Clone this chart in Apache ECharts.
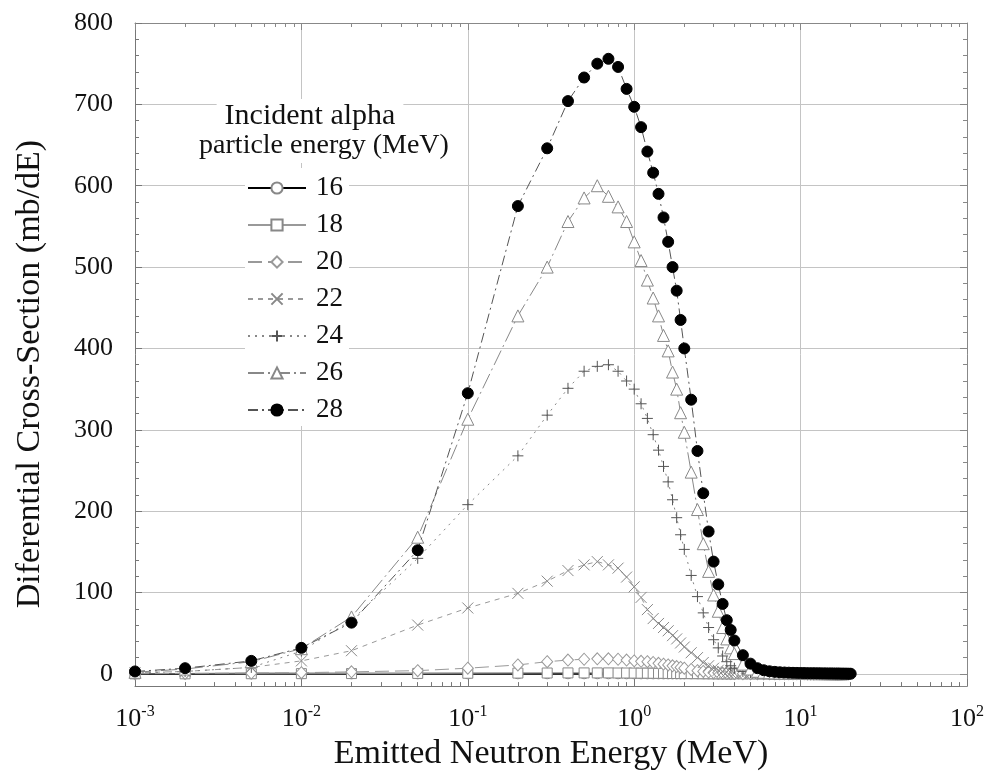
<!DOCTYPE html>
<html>
<head>
<meta charset="utf-8">
<script src="https://cdn.jsdelivr.net/npm/echarts@6/dist/echarts.min.js"></script>
<style>
html,body{margin:0;padding:0;background:#fff;}
#chart{width:990px;height:776px;}
</style>
</head>
<body>
<div id="chart"></div>
<script>
// Emitted neutron energy grid (MeV)
const energy = [0.001,0.002,0.005,0.01,0.02,0.05,0.1,0.2,0.3,0.4,0.5,0.6,0.7,0.8,0.9,1.0,1.1,1.2,1.3,1.4,1.5,1.6,1.7,1.8,1.9,2.0,2.2,2.4,2.6,2.8,3.0,3.2,3.4,3.6,3.8,4.0,4.5,5.0,
  5.5,6,6.5,7,7.5,8,8.5,9,9.5,10,10.5,11,11.5,12,12.5,13,13.5,14,14.5,15,15.5,16,16.5,17,17.5,18,18.5,19,19.5,20];

// Incident alpha energies (legend labels)
const alphaEnergies = ['16','18','20','22','24','26','28'];

// Differential cross-sections (mb/dE)
const sigma16 = [0.01,0.02,0.03,0.05,0.07,0.1,0.12,0.15,0.16,0.16,0.16,0.15,0.15,0.14,0.13,0.12,0.11,0.1,0.09,0.08,0.07,0.06,0.06,0.05,0.05,0.04,0.03,0.03,0.02,0.02,0.02,0.01,0.01,0.01,0.01,0.01,0,0,
  0,0,0,0,0,0];
const sigma18 = [0.05,0.1,0.2,0.3,0.4,0.6,0.8,1,1.1,1.2,1.2,1.2,1.2,1.1,1.1,1,0.9,0.9,0.8,0.7,0.7,0.6,0.5,0.5,0.4,0.4,0.3,0.3,0.2,0.2,0.15,0.12,0.1,0.08,0.06,0.05,0.03,0.02,
  0.02,0.01,0.01,0.01,0.01,0.01,0.01,0,0,0];
const sigma20 = [0.3,0.6,1,1.5,2.5,4,7,11,15,17,18,18.5,18.5,18,17,16,15.5,15,14,13,12,11,10,9,8,7,5.5,4,3,2.2,1.7,1.3,1,0.8,0.6,0.5,0.3,0.2,
  0.15,0.1,0.08,0.06,0.05,0.04,0.03,0.03,0.02,0.02,0.02,0.01,0.01,0.01];
const sigma22 = [1.5,3,8,16,28.5,60,81,99,114,127,134,138,134,130,119,107,94,79,68,62,57,53,47,43,38,33,26,20,14,10,7,4.5,3,2,1.4,1,0.5,0.3,
  0.2,0.15,0.1,0.1,0.1,0.08,0.07,0.06,0.05,0.05,0.04,0.04,0.03,0.03,0.03,0.02,0.02,0.02];
const sigma24 = [1,3,8,28,66,142,208,268,318,351,372,378,380,372,360,350,332,314,294,275,255,236,214,192,171,153,121,95,75,57,42,32,22,15,10,7,3,1.5,
  0.8,0.5,0.4,0.3,0.3,0.2,0.2,0.2,0.2,0.1,0.1,0.1,0.1,0.1,0.1,0.1,0.1,0.05,0.05,0.05,0.05,0.05];
const sigma26 = [2,6,15,31,70,168,313,440,500,556,585,600,587,574,556,531,508,484,462,440,416,397,371,350,321,297,248,202,160,126,97,77,57,43,32,25,12,6,
  3.2,2,1.5,1.2,1,0.9,0.8,0.7,0.6,0.6,0.5,0.5,0.4,0.4,0.4,0.3,0.3,0.3,0.3,0.2,0.2,0.2,0.2,0.2,0.1,0.1];
const sigma28 = [3,7,16,32,63,152,345,575,646,704,733,750,756,746,719,697,672,642,616,590,561,531,500,471,435,400,337,274,222,175,138,110,86,66,54,41,23,12.6,
  7,4.5,3.2,2.5,2,1.7,1.5,1.3,1.2,1.1,1,0.9,0.8,0.8,0.7,0.7,0.6,0.6,0.5,0.5,0.5,0.4,0.4,0.4,0.3,0.3,0.3,0.3,0.2,0.2];

const allSigma = [sigma16, sigma18, sigma20, sigma22, sigma24, sigma26, sigma28];

function pairs(vals){ return vals.map((v,i)=>[energy[i], v]); }

const FONT = 'Liberation Serif';
const crossPath = 'path://M0,0L10,10M10,0L0,10';
const plusPath = 'path://M5,0L5,10M0,5L10,5';

const styles = [
  {symbol:'circle', size:10, fill:'#fff', border:'#888', line:{color:'#000', width:2, type:'solid'}},
  {symbol:'rect', size:10, fill:'#fff', border:'#888', line:{color:'#999', width:1, type:'solid'}},
  {symbol:'diamond', size:[11,12], fill:'#fff', border:'#999', line:{color:'#999', width:1, type:[14,6]}},
  {symbol:crossPath, size:11, fill:'none', border:'#888', line:{color:'#999', width:1, type:[5,5]}},
  {symbol:plusPath, size:11, fill:'none', border:'#555', line:{color:'#888', width:1, type:[2,5]}},
  {symbol:'triangle', size:12, fill:'#fff', border:'#888', line:{color:'#888', width:1, type:[16,4,2,4]}},
  {symbol:'circle', size:11, fill:'#000', border:'#000', line:{color:'#555', width:1, type:[10,4,2,4]}}
];

const series = allSigma.map((vals, k) => {
  const st = styles[k];
  return {
    name: alphaEnergies[k],
    type: 'line',
    data: pairs(vals),
    symbol: st.symbol,
    symbolSize: st.size,
    showSymbol: true,
    showAllSymbol: true,
    lineStyle: st.line,
    itemStyle: {color: st.fill, borderColor: st.border, borderWidth: 1},
    z: 2 + k,
    animation: false,
    silent: true
  };
});

const chart = echarts.init(document.getElementById('chart'), null, {renderer:'canvas'});
chart.setOption({
  backgroundColor: '#fff',
  animation: false,
  title: [
    {
      text: 'Incident alpha',
      left: 302, top: 99, textAlign: 'center',
      backgroundColor: '#fff', padding: [2, 8, 0, 8],
      textStyle: {fontFamily: FONT, fontSize: 30, fontWeight: 'normal', color: '#111', lineHeight: 31}
    },
    {
      text: 'particle energy (MeV)',
      left: 318, top: 131, textAlign: 'center',
      backgroundColor: '#fff', padding: [0, 6, 2, 6],
      textStyle: {fontFamily: FONT, fontSize: 28, fontWeight: 'normal', color: '#111', lineHeight: 30}
    }
  ],
  legend: {
    orient: 'vertical',
    left: 245,
    top: 168,
    z: 8,
    padding: [6, 6, 2, 2],
    backgroundColor: '#fff',
    itemWidth: 58,
    itemHeight: 14,
    itemGap: 9,
    data: alphaEnergies,
    textStyle: {fontFamily: FONT, fontSize: 27, color: '#111', lineHeight: 28, padding: [0,0,0,5]}
  },
  grid: {left: 135, right: 23, top: 23, bottom: 89, containLabel: false},
  xAxis: [
    {
      type: 'log', logBase: 10, min: 0.001, max: 100, position: 'bottom',
      name: 'Emitted Neutron Energy (MeV)', nameLocation: 'middle', nameGap: 46,
      nameTextStyle: {fontFamily: FONT, fontSize: 34, color: '#111'},
      axisLine: {show: true, onZero: false, lineStyle: {color: '#777', width: 1}},
      axisTick: {show: true, inside: true, length: 7, lineStyle: {color: '#777'}},
      minorTick: {show: true, splitNumber: 9, length: 4, lineStyle: {color: '#777'}},
      splitLine: {show: true, lineStyle: {color: '#c4c4c4', width: 1}},
      axisLabel: {
        margin: 18,
        formatter: function(v){ const e = Math.round(Math.log10(v)); return '{b|10}{s|' + e + '}'; },
        rich: {
          b: {fontFamily: FONT, fontSize: 26, color: '#111', lineHeight: 30},
          s: {fontFamily: FONT, fontSize: 16, color: '#111', verticalAlign: 'top', lineHeight: 14}
        }
      }
    },
    {
      type: 'log', logBase: 10, min: 0.001, max: 100, position: 'top',
      axisLine: {show: true, onZero: false, lineStyle: {color: '#888', width: 1}},
      axisTick: {show: true, inside: true, length: 7, lineStyle: {color: '#888'}},
      minorTick: {show: true, splitNumber: 9, length: 4, lineStyle: {color: '#888'}},
      splitLine: {show: false},
      axisLabel: {show: false}
    }
  ],
  yAxis: [
    {
      type: 'value', min: -15, max: 800, splitNumber: 8, position: 'left',
      name: 'Diferential Cross-Section (mb/dE)', nameLocation: 'middle', nameGap: 88,
      nameTextStyle: {fontFamily: FONT, fontSize: 34, color: '#111', padding: [0, 39, 0, 0]},
      axisLine: {show: true, onZero: false, lineStyle: {color: '#777', width: 1}},
      axisTick: {show: true, inside: true, length: 7, lineStyle: {color: '#777'}},
      minorTick: {show: true, splitNumber: 5, length: 4, lineStyle: {color: '#777'}},
      splitLine: {show: true, lineStyle: {color: '#c4c4c4', width: 1}},
      axisLabel: {
        margin: 22,
        fontFamily: FONT, fontSize: 26, color: '#111',
        formatter: function(v){ return v < 0 ? '' : String(v); }
      }
    },
    {
      type: 'value', min: -15, max: 800, splitNumber: 8, position: 'right',
      axisLine: {show: true, onZero: false, lineStyle: {color: '#888', width: 1}},
      axisTick: {show: true, inside: true, length: 7, lineStyle: {color: '#888'}},
      minorTick: {show: true, splitNumber: 5, length: 4, lineStyle: {color: '#888'}},
      splitLine: {show: false},
      axisLabel: {show: false}
    }
  ],
  series: series
});
</script>
</body>
</html>
